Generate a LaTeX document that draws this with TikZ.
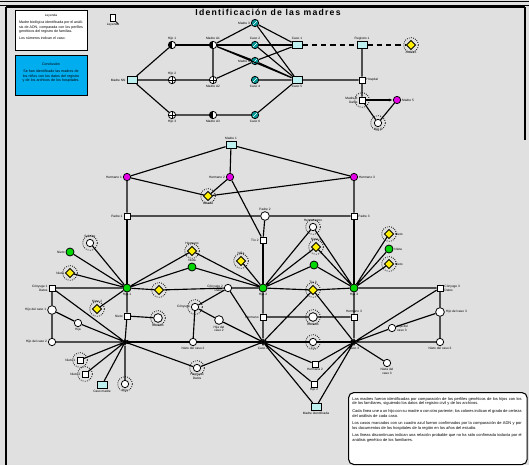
\documentclass[tikz,border=0pt]{standalone}
\usepackage{fontspec}
\setmainfont{Liberation Sans}
\newfontfamily\titlefont[LetterSpace=14]{Liberation Sans}
\usetikzlibrary{shapes.geometric,arrows.meta}
\definecolor{bgc}{RGB}{224,224,224}
\definecolor{lcy}{RGB}{190,240,240}
\definecolor{grn}{RGB}{0,215,0}
\definecolor{mag}{RGB}{230,0,230}
\definecolor{tea}{RGB}{0,150,150}
\definecolor{yel}{RGB}{255,240,0}
\begin{document}
\begin{tikzpicture}[x=0.75pt,y=-0.75pt,
 ed/.style={line width=0.85pt},
 base/.style={draw,line width=0.6pt,inner sep=0pt},
 wc/.style={base,circle,fill=white,minimum size=5.5pt},
 bwc/.style={base,circle,fill=white,minimum size=6.5pt},
 sq/.style={base,rectangle,fill=white,minimum size=4.5pt},
 cy/.style={base,rectangle,fill=lcy,minimum width=7.5pt,minimum height=5.5pt},
 gr/.style={base,circle,fill=grn,minimum size=6pt},
 ye/.style={base,diamond,fill=yel,minimum size=7pt},
 mg/.style={base,circle,fill=mag,minimum size=5.5pt},
 tl/.style={base,circle,fill=tea,minimum size=5.5pt,path picture={\draw[white,line width=0.4pt] (path picture bounding box.south west) -- (path picture bounding box.north east);}},
 half/.style={base,circle,fill=white,minimum size=5.5pt,path picture={\fill[black] (path picture bounding box.north) rectangle (path picture bounding box.south west);}},
 plus/.style={base,circle,fill=white,minimum size=5.5pt,path picture={\draw[line width=0.4pt] (path picture bounding box.north) -- (path picture bounding box.south) (path picture bounding box.west) -- (path picture bounding box.east);}},
 dk/.style={draw,star,star points=6,star point ratio=2.2,fill=black,minimum size=5pt,inner sep=0pt},
 lbl/.style={font=\fontsize{2.4}{2.8}\selectfont,inner sep=0.6pt,align=center},
 glw/.style={densely dotted,line width=0.6pt}
]
\useasboundingbox (0,0) rectangle (529,465);
\fill[bgc] (0,0) rectangle (529,465);
% frame
\draw[line width=1.4pt] (0,1.5) -- (529,1.5);
\draw[line width=0.8pt] (0,5.5) -- (529,5.5);
\draw[line width=0.9pt] (6,7) -- (6,465);
\draw[line width=0.9pt] (6,7) -- (525,7);
\draw[line width=0.9pt] (525,7) -- (525,140);
\node[font=\titlefont\bfseries\fontsize{6.5}{7}\selectfont,inner sep=0pt] (title) at (268,12) {Identificación de las madres};

% legend boxes
\node[draw,line width=0.8pt,fill=white,minimum width=54pt,minimum height=30pt,anchor=north west,inner sep=2pt] (leg1) at (15,10) {};
\node[lbl] (leg1t) at (51,16) {Leyenda};
\node[lbl,anchor=north,text width=48pt,align=justify,font=\fontsize{2.7}{3.3}\selectfont] (leg1b) at (51,20) {Madre biológica identificada por el análisis de ADN, comparada con los perfiles genéticos del registro de familias.\par\vspace{2pt}Los números indican el caso.};
\node[draw,line width=0.8pt,fill=cyan,minimum width=54pt,minimum height=30pt,anchor=north west,inner sep=2pt] (leg2) at (15,55) {};
\node[lbl,anchor=north,text width=48pt,align=center,font=\fontsize{2.7}{3.3}\selectfont] (leg2t) at (51,62) {Conclusión\par\vspace{2pt} Se han identificado las madres de los niños con los datos del registro y de los archivos de los hospitales.};

% icon
\node[base,rectangle,fill=white,minimum width=4pt,minimum height=5pt,label={[lbl]below:Leyenda}] (ic) at (113,18) {};
\draw[line width=0.6pt] (ic.south east) -- ++(2,2);

% ---------------- top cluster
\node[cy,label={[lbl]left:Madre NN}] (A) at (132,80) {};
\node[half,label={[lbl]above:Hijo 1}] (t1) at (172,45) {};
\node[half,label={[lbl]above:Madre A1}] (t2) at (213,45) {};
\node[tl,label={[lbl]above:Caso 2}] (t3) at (255,45) {};
\node[cy,label={[lbl]above:Caso 1}] (t4) at (297,45) {};
\node[tl,label={[lbl]left:Madre 3}] (u0) at (255,23) {};
\node[plus,label={[lbl]above:Hijo 2}] (m1) at (172,80) {};
\node[plus,label={[lbl]below:Madre A2}] (m2) at (213,80) {};
\node[tl,label={[lbl]below:Caso 4}] (m3) at (255,80) {};
\node[cy,label={[lbl]below:Caso 5}] (m4) at (297,80) {};
\node[tl,label={[lbl]left:Madre 4}] (u2) at (255,61) {};
\node[plus,label={[lbl]below:Hijo 3}] (b1) at (172,115) {};
\node[half,label={[lbl]below:Madre A3}] (b2) at (213,115) {};
\node[tl,label={[lbl]below:Caso 6}] (b3) at (255,115) {};
\draw[ed] (A) -- (t1) (A) -- (m1) (A) -- (b1);
\draw[ed] (t1) -- (t2) -- (t3) -- (t4);
\draw[ed] (m1) -- (m2) (m2) -- (t2) (m2) -- (u2);
\draw[ed] (m3) -- (m4) (b1) -- (b2) -- (b3) (b3) -- (m4);
\draw[ed] (t2) -- (u0) (t2) -- (u2) (t2) -- (m4) (u0) -- (t4) (u0) -- (m4) (t3) -- (m4) (u2) -- (t4) (u2) -- (m4);

\node[cy,label={[lbl]above:Registro 1}] (r1) at (362,45) {};
\node[ye,label={[lbl]below:Archivo}] (r2) at (411,45) {};
\node[sq,label={[lbl]right:Hospital}] (r3) at (362,80) {};
\node[sq,label={[lbl,align=right]left:Madre B\\Datos}] (r4) at (362,100) {};
\node[mg,label={[lbl]right:Madre 5}] (r5) at (397,100) {};
\node[wc,label={[lbl]below:Hijo 5}] (r6) at (378,123) {};
\draw[ed,dash pattern=on 4pt off 3pt] (t4) -- (r1) -- (r2);
\draw[ed] (m4) -- (r3) (r1) -- (r3) -- (r4) (r4) -- (r6) -- (r5);
\draw[ed,-{Latex[length=3pt]}] (r4) -- (r5);

% ---------------- middle
\node[cy,label={[lbl]above:Madre 1}] (c0) at (231,145) {};
\node[mg,label={[lbl]left:Hermano 1}] (p1) at (127,177) {};
\node[mg,label={[lbl]left:Hermano 2}] (p2) at (230,177) {};
\node[mg,label={[lbl]right:Hermano 3}] (p3) at (354,177) {};
\node[ye,label={[lbl]below:Abuela}] (y0) at (208,196) {};
\draw[ed] (c0) -- (p1) (c0) -- (p2) (c0) -- (p3) (p1) -- (y0) (p2) -- (y0) (p3) -- (y0);
\node[sq,label={[lbl]left:Padre 1}] (s1) at (127,216) {};
\node[bwc,label={[lbl]above:Padre 2}] (s2) at (265,216) {};
\node[sq,label={[lbl]right:Padre 3}] (s3) at (354,216) {};
\node[sq,label={[lbl]left:Tío 2}] (s4) at (263,240) {};
\draw[ed] (s1) -- (s2) -- (s3) (p1) -- (s1) (p3) -- (s3) (s2) -- (s4) (p2) -- (s4);
\node[gr,label={[lbl]below:Hija 1}] (g1) at (127,288) {};
\node[gr,label={[lbl]below:Hija 2}] (g2) at (263,288) {};
\node[gr,label={[lbl]below:Hija 3}] (g3) at (354,288) {};
\node[sq,label={[lbl,align=right]left:Cónyuge 1\\Datos}] (L) at (52,288) {};
\node[sq,label={[lbl,align=left]right:Cónyuge 3\\Datos}] (R) at (440,288) {};
\node[ye] (y1) at (159,290) {};
\node[ye,label={[lbl]above:Tía 3}] (y2) at (313,290) {};
\node[wc,label={[lbl,align=right]left:Cónyuge 2\\Datos}] (w1) at (228,288) {};
\draw[ed] (s1) -- (g1) (s4) -- (g2) (s3) -- (g3);
\draw[ed] (L) -- (g1) -- (y1) -- (w1) -- (g2) -- (y2) -- (g3) -- (R);
\node[wc,label={[lbl]above:Sobrino}] (n1) at (90,243) {};
\node[gr,label={[lbl]left:Nieto}] (n2) at (70,252) {};
\node[ye,label={[lbl]left:Nieta}] (n3) at (70,273) {};
\node[ye,label={[lbl]above:Nieto 2}] (n4) at (97,309) {};
\node[ye,label={[lbl]above:Hermano}] (n5) at (192,251) {};
\node[gr,label={[lbl]above:Nieta}] (n6) at (192,267) {};
\node[ye,label={[lbl]above:Niña}] (n7) at (241,261) {};
\node[wc,label={[lbl]above:Hermanastro}] (n8) at (313,227) {};
\node[ye,label={[lbl]above:Nieta 3}] (n9) at (316,247) {};
\node[gr] (n10) at (314,265) {};
\node[ye,label={[lbl]right:Nieto}] (n11) at (389,234) {};
\node[gr,label={[lbl]right:Nieta}] (n12) at (389,249) {};
\node[ye,label={[lbl]right:Nieto}] (n13) at (389,264) {};
\draw[ed] (n1) -- (g1) (n2) -- (g1) (n3) -- (g1) (n4) -- (g1) (n5) -- (g1) (n6) -- (g1);
\draw[ed] (n5) -- (g2) (n6) -- (g2) (n7) -- (g2) (n8) -- (g2) (n9) -- (g2) (n10) -- (g2);
\draw[ed] (n8) -- (g3) (n9) -- (g3) (n10) -- (g3) (n11) -- (g3) (n12) -- (g3) (n13) -- (g3);

% ---------------- lower
\node[bwc,label={[lbl]left:Hijo del caso 1}] (l1) at (52,310) {};
\node[wc,label={[lbl]left:Hijo del caso 2}] (l2) at (52,342) {};
\node[wc,label={[lbl]below:Hija}] (l3) at (78,323) {};
\node[dk,label={[lbl]right:Caso 1}] (d1) at (125,342) {};
\node[sq,label={[lbl]left:Nieto}] (q1) at (127,316) {};
\node[bwc,label={[lbl]below:Bisnieto}] (q2) at (158,318) {};
\draw[ed] (L) -- (l1) -- (l2) (L) -- (d1) (l1) -- (l3) -- (d1) (l2) -- (d1) (g1) -- (q1) -- (d1) (q1) -- (q2);
\node[sq,label={[lbl]left:Nieto 1}] (e1) at (80,360) {};
\node[sq,label={[lbl]left:Nieto 2}] (e2) at (85,374) {};
\node[cy,label={[lbl]below:Caso madre}] (e3) at (102,385) {};
\node[wc,label={[lbl]below:Hijo}] (e4) at (125,384) {};
\node[wc,label={[lbl,align=center]below:Hermano\\Datos}] (e5) at (197,368) {};
\draw[ed] (d1) -- (e1) (d1) -- (e2) (d1) -- (e3) (d1) -- (e4) (d1) -- (e5);
\node[dk,label={[lbl]below:Caso 2}] (d2) at (263,342) {};
\node[dk,label={[lbl]below:Caso 3}] (d3) at (354,342) {};
\node[wc,label={[lbl]left:Cónyuge}] (w2) at (195,307) {};
\node[bwc,label={[lbl,align=center]below:Hija del\\caso 2}] (w3) at (219,320) {};
\node[wc,label={[lbl]below:Nieto del caso 2}] (w4) at (193,342) {};
\draw[ed] (w1) -- (w2) -- (w4) (w2) -- (w3) -- (d2) (w1) -- (d2) (e5) -- (d2);
\draw[ed] (d1) -- (w4) -- (d2) -- (d3);
\node[sq,label={[lbl]left:Hermano}] (q3) at (263,317) {};
\node[bwc,label={[lbl]below:Bisnieto}] (q4) at (313,317) {};
\node[sq,label={[lbl]above:Hermano 3}] (q5) at (354,317) {};
\node[wc,label={[lbl]below:Tío}] (q6) at (313,342) {};
\draw[ed] (g2) -- (q3) -- (d2) (q3) -- (q4) -- (q5) (g3) -- (q5) -- (d3) (d2) -- (y2) -- (d3);
\node[sq,label={[lbl]below:Hermana 2}] (f1) at (315,364) {};
\node[sq,label={[lbl]below:Hijo 2}] (f2) at (314,384) {};
\node[cy,label={[lbl]below:Madre identificada}] (f3) at (316,407) {};
\draw[ed] (d2) -- (f1) (d2) -- (f2) (d2) -- (f3) (d3) -- (f1) (d3) -- (f2) (d3) -- (f3);
\node[bwc,label={[lbl]right:Hijo del caso 3}] (k1) at (440,312) {};
\node[wc,label={[lbl,align=left]right:Hija del\\caso 3}] (h1) at (392,328) {};
\node[wc,label={[lbl,align=center]below:Nieta del\\caso 3}] (h2) at (387,363) {};
\node[wc,label={[lbl]below:Nieto del caso 3}] (k2) at (440,342) {};
\draw[ed] (R) -- (k1) -- (k2) (R) -- (d3) (k1) -- (h1) -- (d3) (d3) -- (h2) (d3) -- (k2);

% glows
\foreach \n in {n1,n3,n4,n5,n7,n8,n9,n11,n13,y0,y1,y2,r2,r4,r6,q2,q4,q6,e1,e2,e4,e5,w2}
  \draw[glw] (\n) circle (5.5pt);

% text box
\node[draw,line width=0.8pt,fill=white,rounded corners=4pt,anchor=north west,minimum width=134pt,minimum height=54pt,inner sep=0pt] (tb) at (348,392) {};
\node[lbl,anchor=north,text width=127pt,align=justify,font=\fontsize{3}{3.6}\selectfont] (tbt) at (437,396) {Las madres fueron identificadas por comparación de los perfiles genéticos de los hijos con los de los familiares, siguiendo los datos del registro civil y de los archivos.\par\vspace{2pt}
Cada línea une a un hijo con su madre o con otro pariente; los colores indican el grado de certeza del análisis de cada caso.\par\vspace{2pt}
Los casos marcados con un cuadro azul fueron confirmados por la comparación de ADN y por los documentos de los hospitales de la región en los años del estudio.\par\vspace{2pt}
Las líneas discontinuas indican una relación probable que no ha sido confirmada todavía por el análisis genético de los familiares.};
\end{tikzpicture}
\end{document}
